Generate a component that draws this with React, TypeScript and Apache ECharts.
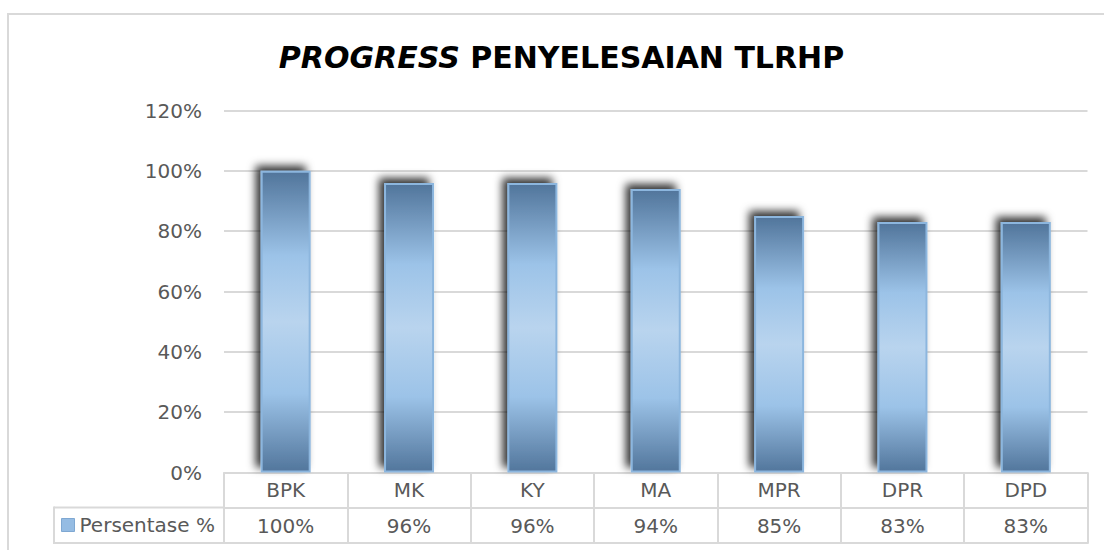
import React, { useEffect, useRef } from "react";
import * as echarts from "echarts";

const categories = ["BPK", "MK", "KY", "MA", "MPR", "DPR", "DPD"];
const values = [100, 96, 96, 94, 85, 83, 83];
const seriesName = "Persentase %";
const yMin = 0;
const yMax = 120;
const yStep = 20;
const titleItalic = "PROGRESS";
const titleRest = " PENYELESAIAN TLRHP";

const FONT = "DejaVu Sans";
const TXT = "#595959";
const LINE = "#d9d9d9";

export default function App() {
  const ref = useRef<HTMLDivElement>(null);
  useEffect(() => {
    if (!ref.current) return;
    const chart = echarts.init(ref.current, null, { renderer: "svg" });
    const barGrad = new echarts.graphic.LinearGradient(0, 0, 0, 1, [
      { offset: 0, color: "#51759b" },
      { offset: 0.28, color: "#9cc3e8" },
      { offset: 0.5, color: "#b9d4ee" },
      { offset: 0.74, color: "#9cc3e8" },
      { offset: 1, color: "#52769c" },
    ]);
    const gridLeft = 224;
    const gridRight = 1104 - 1087.5;
    const gridTop = 110.5;
    const gridBottom = 550 - 472.5;
    chart.setOption({
      animation: false,
      backgroundColor: "#ffffff",
      grid: { left: gridLeft, right: gridRight, top: gridTop, bottom: gridBottom, containLabel: false },
      legend: {
        left: 61,
        top: 515,
        padding: 0,
        itemWidth: 13,
        itemHeight: 13,
        icon: "rect",
        data: [seriesName],
        textStyle: { fontFamily: FONT, fontSize: 20, color: TXT },
        itemStyle: { color: "#95bce3", borderColor: "#7fa8d2", borderWidth: 1 },
      },
      xAxis: [
        {
          type: "category",
          data: categories,
          position: "bottom",
          axisLine: { show: true, lineStyle: { color: LINE, width: 2 } },
          axisTick: { show: true, interval: 0, length: 71, lineStyle: { color: LINE, width: 2 } },
          axisLabel: { interval: 0, margin: 7, fontFamily: FONT, fontSize: 20, color: TXT, lineHeight: 20 },
        },
        {
          type: "category",
          data: categories,
          position: "bottom",
          offset: 35,
          axisLine: { show: true, lineStyle: { color: LINE, width: 2 } },
          axisTick: { show: false },
          axisLabel: {
            interval: 0,
            margin: 8,
            fontFamily: FONT,
            fontSize: 20,
            color: TXT,
            lineHeight: 20,
            formatter: (_v: string, i: number) => values[i] + "%",
          },
        },
      ],
      yAxis: {
        type: "value",
        min: yMin,
        max: yMax,
        interval: yStep,
        axisLine: { show: false },
        axisTick: { show: false },
        axisLabel: { margin: 22, fontFamily: FONT, fontSize: 20, color: TXT, formatter: "{value}%" },
        splitLine: { lineStyle: { color: LINE, width: 2 } },
      },
      series: [
        {
          name: seriesName,
          type: "bar",
          data: values,
          barWidth: 50,
          itemStyle: {
            color: barGrad,
            borderColor: "#8cb6de",
            borderWidth: 2,
            shadowColor: "rgba(0,0,0,0.8)",
            shadowBlur: 9,
            shadowOffsetX: -5,
            shadowOffsetY: -5,
          },
        },
      ],
      graphic: [
        {
          type: "rect",
          silent: true,
          shape: { x: 8, y: 14, width: 1200, height: 600 },
          style: { fill: "none", stroke: LINE, lineWidth: 2 },
        },
        {
          type: "text",
          x: 561.5,
          y: 57,
          style: {
            text: "{i|" + titleItalic + "}{n|" + titleRest + "}",
            align: "center",
            verticalAlign: "middle",
            rich: {
              i: { fontFamily: FONT, fontSize: 30, fontWeight: "bold", fontStyle: "italic", fill: "#000" },
              n: { fontFamily: FONT, fontSize: 30, fontWeight: "bold", fill: "#000" },
            },
          },
        },
        {
          type: "line",
          shape: { x1: 54, y1: 507.5, x2: 224, y2: 507.5 },
          style: { stroke: LINE, lineWidth: 2 },
        },
        {
          type: "line",
          shape: { x1: 54, y1: 543, x2: 1088.5, y2: 543 },
          style: { stroke: LINE, lineWidth: 2 },
        },
        {
          type: "line",
          shape: { x1: 54, y1: 506.5, x2: 54, y2: 544 },
          style: { stroke: LINE, lineWidth: 2 },
        },
      ],
    });
    return () => chart.dispose();
  }, []);
  return (
    <div
      ref={ref}
      style={{ position: "fixed", left: 0, top: 0, width: 1104, height: 550, background: "#fff" }}
    />
  );
}
